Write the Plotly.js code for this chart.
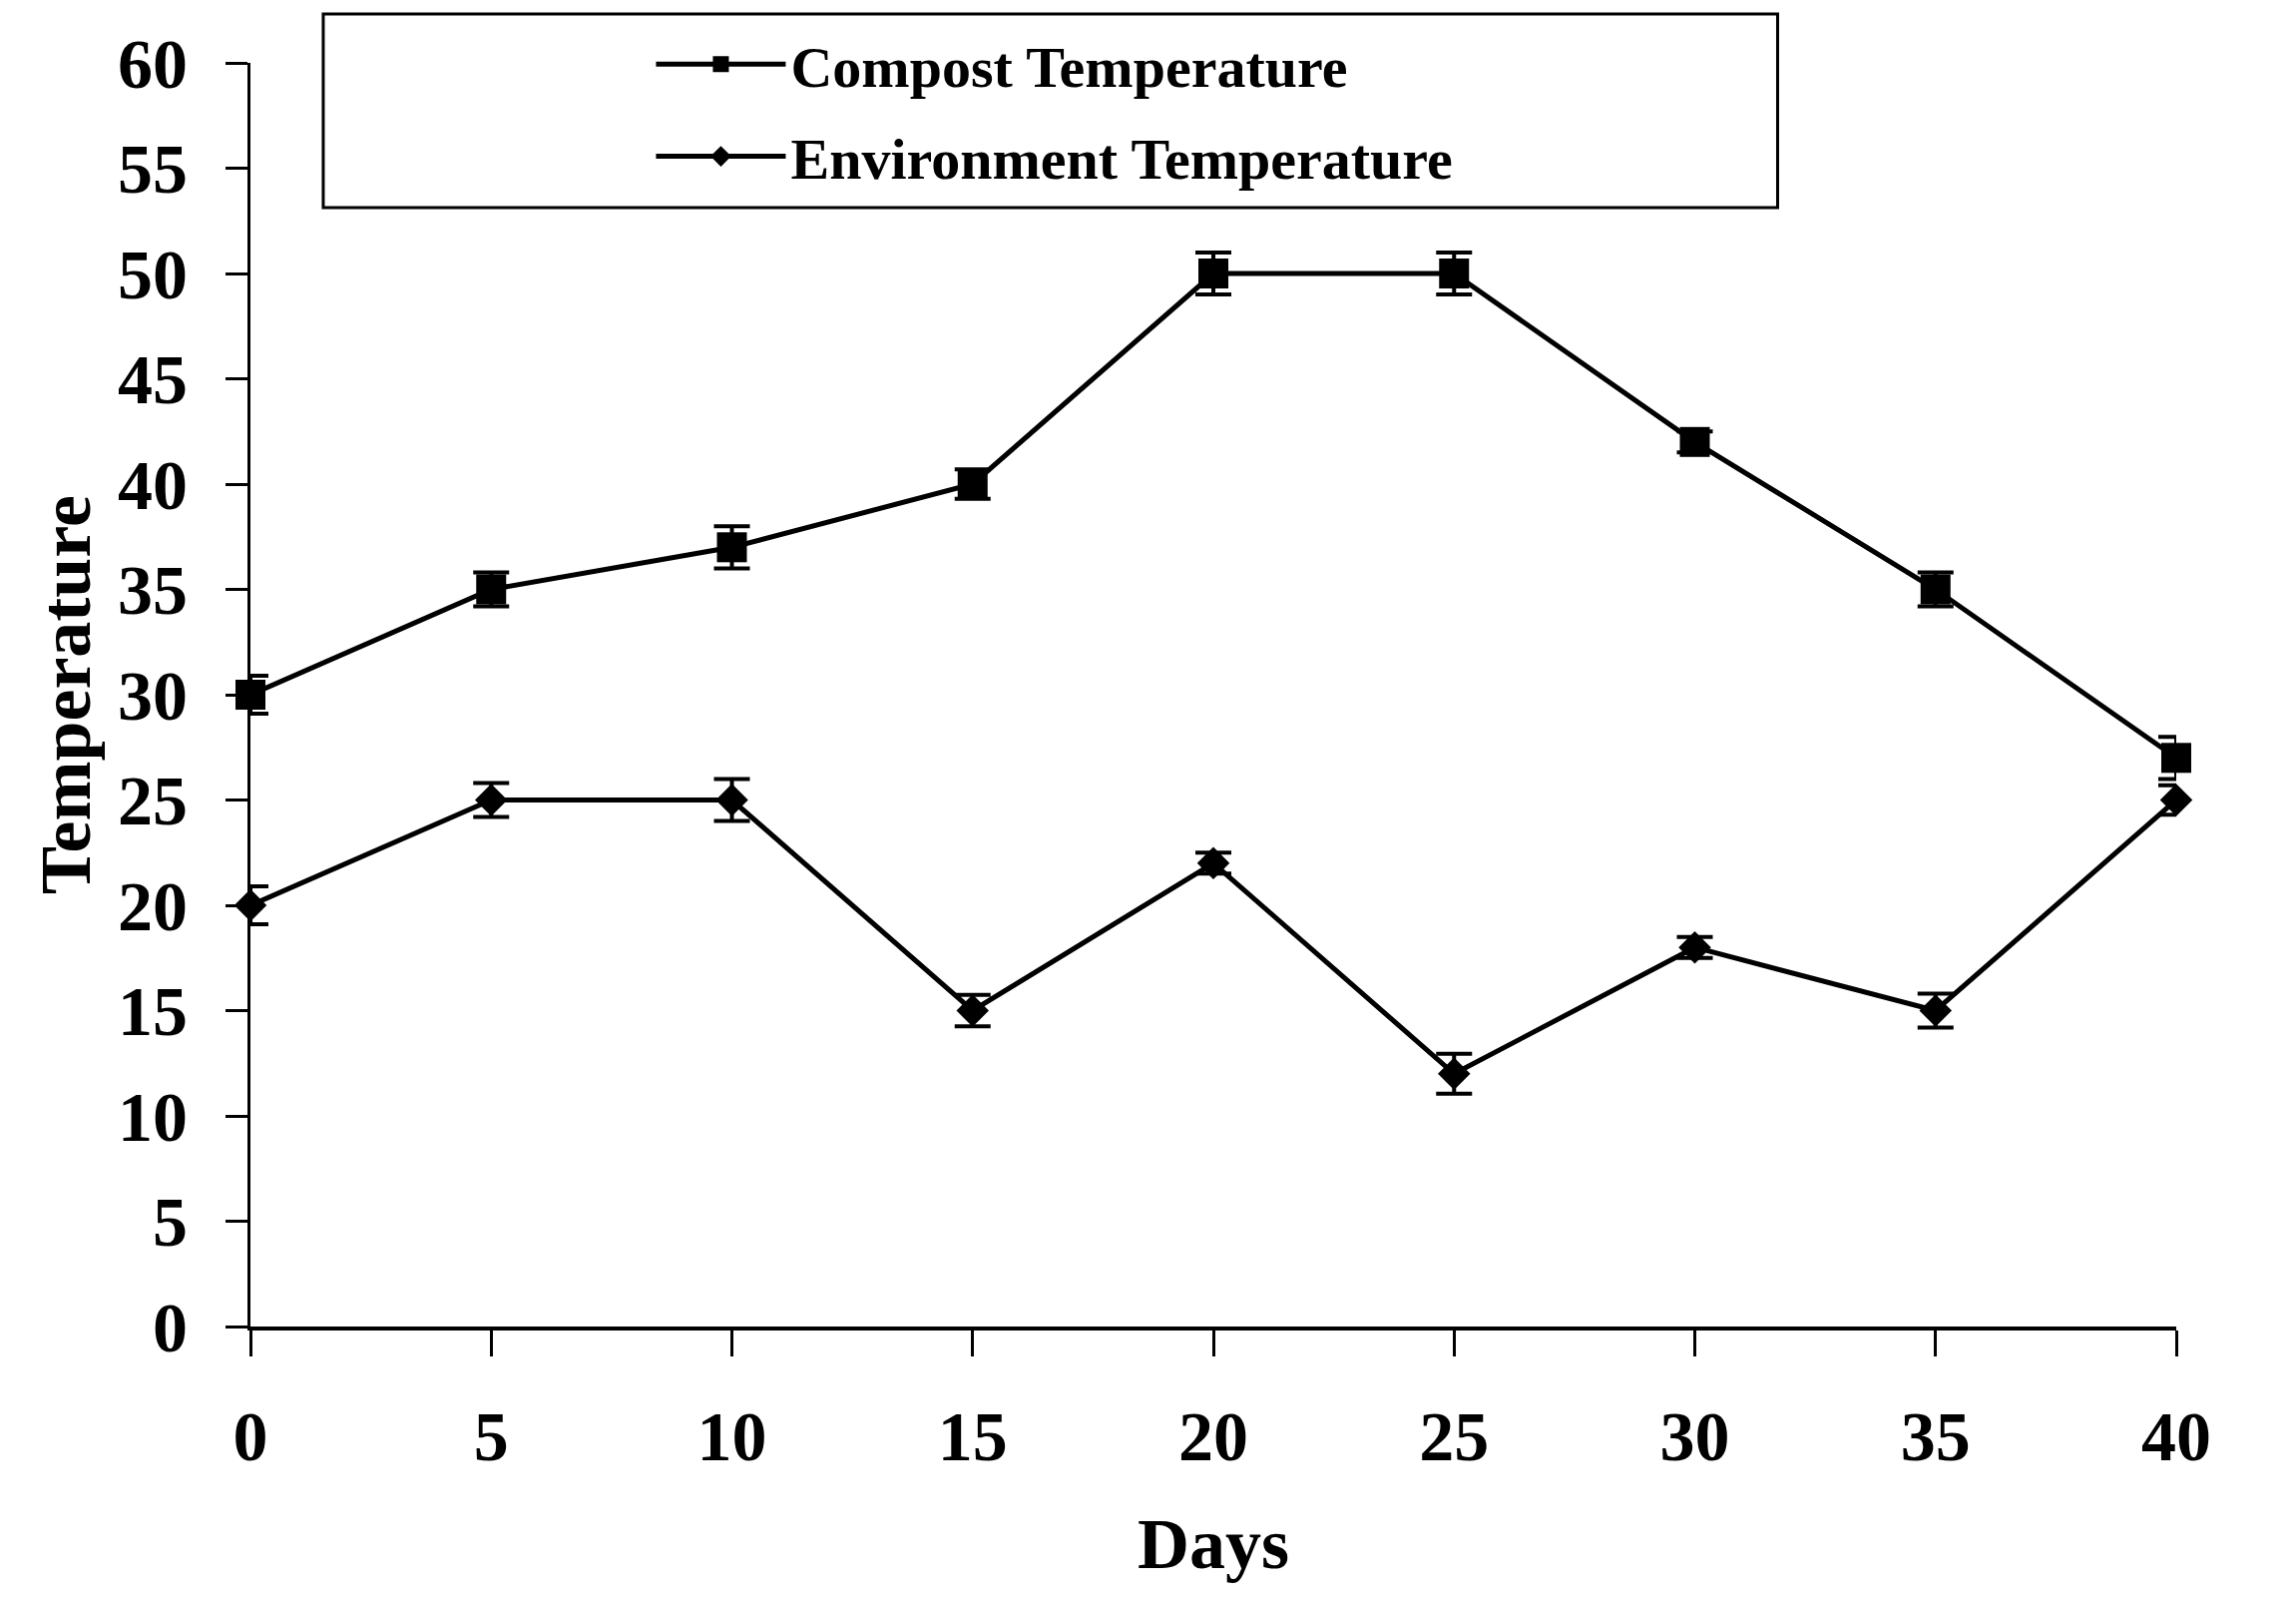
<!DOCTYPE html>
<html>
<head>
<meta charset="utf-8">
<script src="https://cdn.plot.ly/plotly-3.0.1.min.js"></script>
<style>
  html, body { margin: 0; padding: 0; background: #fff; }
  #chart { width: 2301px; height: 1601px; }
</style>
</head>
<body>
<div id="chart"></div>
<script>
// Days of sampling
var days = [0, 5, 10, 15, 20, 25, 30, 35, 40];

// Compost temperature and its error
var compostTemp = [30, 35, 37, 40, 50, 50, 42, 35, 27];
var compostErr = [0.9, 0.8, 1.0, 0.7, 1.0, 1.0, 0.5, 0.8, 1.0];

// Environment temperature and its error
var envTemp = [20, 25, 25, 15, 22, 12, 18, 15, 25];
var envErr = [0.9, 0.8, 1.0, 0.75, 0.5, 0.95, 0.5, 0.8, 0.7];

var yTicks = [0, 5, 10, 15, 20, 25, 30, 35, 40, 45, 50, 55, 60];

var font = "Liberation Serif, Times New Roman, serif";
var bold = function (v) { return "<b>" + v + "</b>"; };

var compost = {
    x: days,
    y: compostTemp,
    name: "<b>Compost Temperature</b>",
    type: "scatter",
    mode: "lines+markers",
    legendgroup: "a",
    cliponaxis: false,
    line: {color: "#000", width: 5},
    marker: {symbol: "square", size: 30, color: "#000"},
    error_y: {type: "data", array: compostErr, visible: true, color: "#000", thickness: 4, width: 18}
};

var env = {
    x: days,
    y: envTemp,
    name: "<b>Environment Temperature</b>",
    type: "scatter",
    mode: "lines+markers",
    legendgroup: "b",
    cliponaxis: false,
    line: {color: "#000", width: 5},
    marker: {symbol: "diamond", size: 25, color: "#000"},
    error_y: {type: "data", array: envErr, visible: true, color: "#000", thickness: 4, width: 18}
};

var layout = {
    width: 2301,
    height: 1601,
    margin: {l: 251, r: 120, t: 63, b: 272},
    paper_bgcolor: "#fff",
    plot_bgcolor: "#fff",
    font: {family: font, color: "#000"},
    showlegend: true,
    legend: {
        x: 0.208, xanchor: "left",
        y: 1.034, yanchor: "top",
        bgcolor: "rgba(0,0,0,0)",
        borderwidth: 0,
        traceorder: "grouped",
        tracegroupgap: 14,
        itemwidth: 130,
        font: {family: font, size: 58, color: "#000"}
    },
    xaxis: {
        range: [0, 40],
        tickvals: days,
        ticktext: days.map(bold),
        showgrid: false,
        zeroline: false,
        showline: true,
        linecolor: "#000",
        linewidth: 4,
        ticks: "outside",
        ticklen: 26,
        tickwidth: 3,
        tickcolor: "#000",
        ticklabelstandoff: 20,
        tickfont: {family: font, size: 70, color: "#000"},
        title: {text: "<b>Days</b>", font: {family: font, size: 72, color: "#000"}, standoff: 45}
    },
    yaxis: {
        range: [0, 60],
        tickvals: yTicks,
        ticktext: yTicks.map(bold),
        showgrid: false,
        zeroline: false,
        showline: true,
        linecolor: "#000",
        linewidth: 3,
        ticks: "outside",
        ticklen: 22,
        tickwidth: 3,
        tickcolor: "#000",
        ticklabelstandoff: 24,
        tickfont: {family: font, size: 70, color: "#000"},
        title: {text: "<b>Temperature</b>", font: {family: font, size: 72, color: "#000"}, standoff: 4}
    },
    shapes: [{
        type: "rect",
        xref: "paper", yref: "paper",
        x0: 0.0378, x1: 0.793,
        y0: 0.8855, y1: 1.0387,
        line: {color: "#000", width: 3},
        fillcolor: "rgba(0,0,0,0)"
    }]
};

Plotly.newPlot("chart", [compost, env], layout, {displayModeBar: false, staticPlot: true});
</script>
</body>
</html>
